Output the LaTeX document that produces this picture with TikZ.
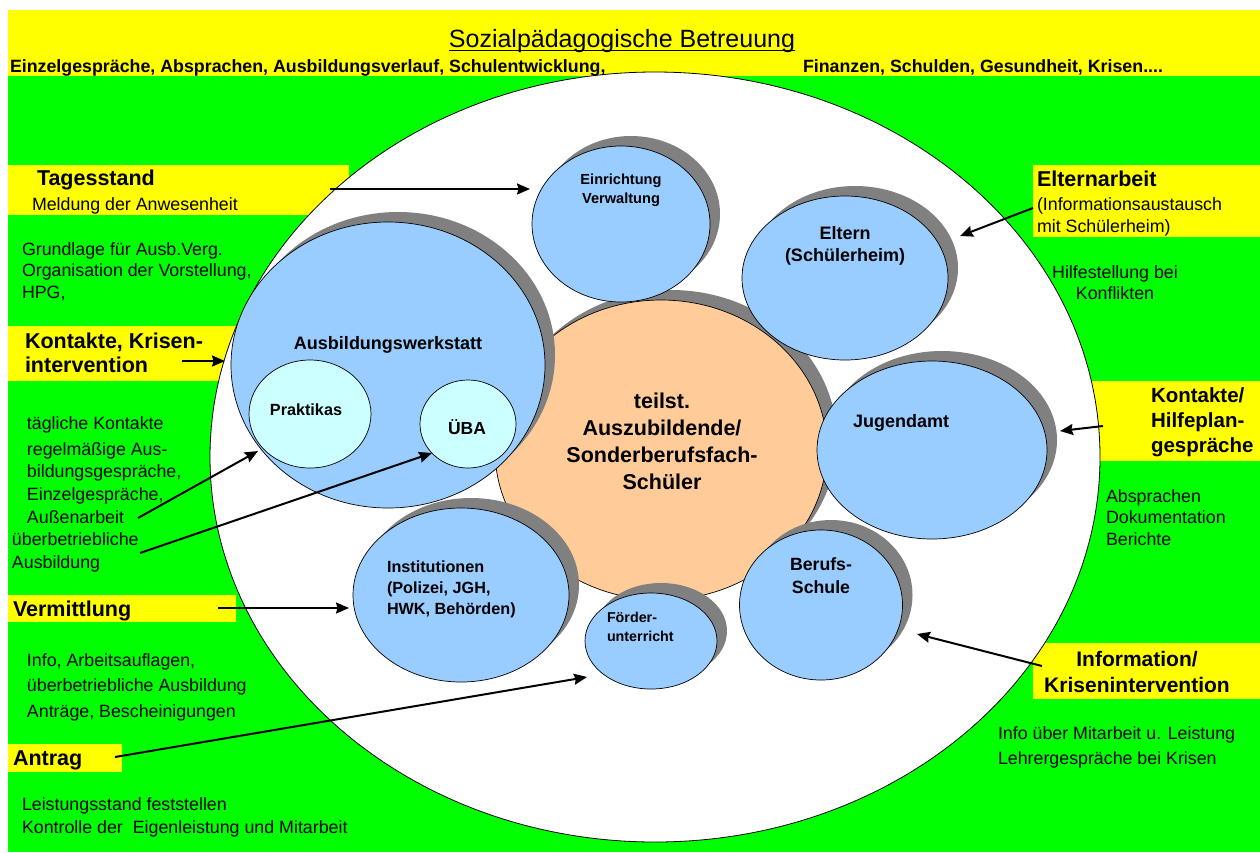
\documentclass[tikz,border=0pt]{standalone}
\usepackage{fontspec}
\setmainfont{Liberation Sans}
\usetikzlibrary{arrows.meta,shapes.geometric,shadows}
\definecolor{bggreen}{RGB}{0,255,0}
\definecolor{hlyellow}{RGB}{255,255,0}
\definecolor{cblue}{RGB}{153,204,255}
\definecolor{ccyan}{RGB}{204,255,255}
\definecolor{cpeach}{RGB}{255,204,153}
\definecolor{cshadow}{RGB}{128,128,128}
\newcommand{\fsz}[2]{\fontsize{#1}{#2}\selectfont}
\newcommand{\cblk}[1]{\vtop{\halign{\hfil##\hfil\cr#1\crcr}}}
\newcommand{\lblk}[1]{\vtop{\halign{##\hfil\cr#1\crcr}}}
\begin{document}
\begin{tikzpicture}[x=1pt,y=-1pt,
  tl/.style={inner sep=0pt,outer sep=0pt,anchor=base west},
  tc/.style={inner sep=0pt,outer sep=0pt,anchor=base},
  body/.style={font=\fsz{17.8}{#1}}, body/.default=22,
  head/.style={font=\bfseries\fsz{21.5}{#1}}, head/.default=25,
  lbl/.style 2 args={font=\bfseries\fsz{#1}{#2}},
  band/.style={fill=hlyellow},
  bubble/.style={ellipse, draw=black, line width=0.7pt, inner sep=0pt, outer sep=0pt, fill=cblue,
     drop shadow={opacity=1,fill=cshadow,shadow xshift=10pt,shadow yshift=10pt}},
  subbubble/.style={ellipse, draw=black, line width=0.7pt, inner sep=0pt, outer sep=0pt, fill=ccyan},
  conn/.style={line width=2pt, -{Stealth[length=13pt,width=11pt,inset=1.5pt]}}
]
\useasboundingbox (0,0) rectangle (1260,852);
\fill[white] (0,0) rectangle (1260,852);
\fill[bggreen] (8,10) rectangle (1260,852);
% yellow bands
\fill[band] (8,10) rectangle (1260,76);
\fill[band] (8,165) rectangle (349,215);
\fill[band] (8,326) rectangle (260,381);
\fill[band] (8,595) rectangle (236,622);
\fill[band] (8,744) rectangle (122,772);
\fill[band] (1033,165) rectangle (1260,237);
\fill[band] (1060,381) rectangle (1260,461);
\fill[band] (1033,643) rectangle (1260,699);

% big white ellipse
\node[ellipse, draw=black, line width=0.8pt, fill=white, inner sep=0pt,
      minimum width=890pt, minimum height=770pt] (outer) at (655,457) {};

% circles
\node[bubble, fill=cpeach, minimum width=332pt, minimum height=300pt] (kern) at (661,450) {};
\node[bubble, minimum width=178pt, minimum height=156pt] (einr) at (621,224) {};
\node[bubble, minimum width=314pt, minimum height=286pt] (werk) at (388,365) {};
\node[subbubble, minimum width=122pt, minimum height=108pt] (prak) at (310,414) {};
\node[subbubble, minimum width=96pt, minimum height=88pt] (uba) at (468,424) {};
\node[bubble, minimum width=206pt, minimum height=164pt] (eltern) at (845,278) {};
\node[bubble, minimum width=230pt, minimum height=178pt] (jugend) at (932,450) {};
\node[bubble, minimum width=216pt, minimum height=174pt] (inst) at (461,595) {};
\node[bubble, minimum width=132pt, minimum height=96pt] (foerd) at (651,641) {};
\node[bubble, minimum width=163pt, minimum height=150pt] (beruf) at (821,605) {};

% circle labels
\node[tc, lbl={14.6}{19}] (einrT) at (621,184) {\cblk{Einrichtung\cr Verwaltung}};
\node[tc, lbl={18}{22}] (werkT) at (388,349) {Ausbildungswerkstatt};
\node[tc, lbl={16.2}{20}] (prakT) at (306,415) {Praktikas};
\node[tc, lbl={17.5}{20}] (ubaT) at (467,434) {ÜBA};
\node[tc, lbl={21.5}{27}] (kernT) at (662,408) {\cblk{teilst.\cr Auszubildende/\cr Sonderberufsfach-\cr Schüler}};
\node[tc, lbl={18}{22}] (elternT) at (845,239) {\cblk{Eltern\cr (Schülerheim)}};
\node[tc, lbl={18}{22}] (jugendT) at (901,427) {Jugendamt};
\node[tl, lbl={16.2}{21}] (instT) at (387,572) {\lblk{Institutionen\cr (Polizei, JGH,\cr HWK, Behörden)}};
\node[tl, lbl={14.3}{19}] (foerdT) at (607,622) {\lblk{Förder-\cr unterricht}};
\node[tc, lbl={17.7}{23}] (berufT) at (821,570) {\cblk{Berufs-\cr Schule}};

% header
\node[tc, font=\fsz{25}{30}] (title) at (622,47) {Sozialpädagogische Betreuung};
\draw[line width=1.6pt] ([yshift=-3.5pt]title.base west) -- ([yshift=-3.5pt]title.base east);
\node[tl, font=\bfseries\fsz{17.8}{22}] (subL) at (10,72) {Einzelgespräche, Absprachen, Ausbildungsverlauf, Schulentwicklung,};
\node[tl, font=\bfseries\fsz{17.8}{22}] (subR) at (803,72) {Finanzen, Schulden, Gesundheit, Krisen....};

% left side texts
\node[tl, head] (tages) at (37,185) {Tagesstand};
\node[tl, body] (meld) at (32,210) {Meldung der Anwesenheit};
\node[tl, body=21.5] (grund) at (22,255) {\lblk{Grundlage für Ausb.Verg.\cr Organisation der Vorstellung,\cr HPG,}};
\node[tl, head=24] (kontakt) at (25,348) {\lblk{Kontakte, Krisen-\cr intervention}};
\node[tl, body] (taegl) at (27,429) {tägliche Kontakte};
\node[tl, body=22.7] (regel) at (27,455) {\lblk{regelmäßige Aus-\cr bildungsgespräche,\cr Einzelgespräche,\cr Außenarbeit}};
\node[tl, body=23] (ueber) at (12,545) {\lblk{überbetriebliche\cr Ausbildung}};
\node[tl, head] (verm) at (13,616) {Vermittlung};
\node[tl, body=25.5] (info) at (27,666) {\lblk{Info, Arbeitsauflagen,\cr überbetriebliche Ausbildung\cr Anträge, Bescheinigungen}};
\node[tl, head] (antrag) at (13,765) {Antrag};
\node[tl, body=23] (leist) at (22,810) {\lblk{Leistungsstand feststellen\cr Kontrolle der~ Eigenleistung und Mitarbeit}};

% right side texts
\node[tl, head] (eltarb) at (1037,186) {Elternarbeit};
\node[tl, body=22] (elttxt) at (1037,210) {\lblk{(Informationsaustausch\cr mit Schülerheim)}};
\node[tc, body=21.5] (hilfe) at (1115,278) {\cblk{Hilfestellung bei\cr Konflikten}};
\node[tl, font=\bfseries\fsz{20.5}{25}] (kontakt2) at (1151,402) {\lblk{Kontakte/\cr Hilfeplan-\cr gespräche}};
\node[tl, body=21.5] (absp) at (1106,502) {\lblk{Absprachen\cr Dokumentation\cr Berichte}};
\node[tc, font=\bfseries\fsz{21}{26}] (infokr) at (1137,666) {\cblk{Information/\cr Krisenintervention}};
\node[tl, body=25] (infoueb) at (998,739) {\lblk{Info über Mitarbeit u. Leistung\cr Lehrergespräche bei Krisen}};

% arrow end points
\coordinate (a1s) at (330,189);  \coordinate (a1e) at (530,189);
\coordinate (a2s) at (1033,208); \coordinate (a2e) at (960,236);
\coordinate (a3s) at (182,361);  \coordinate (a3e) at (225,361);
\coordinate (a4s) at (1103,426); \coordinate (a4e) at (1060,431);
\coordinate (a5s) at (138,518);  \coordinate (a5e) at (258,451);
\coordinate (a6s) at (140,553);  \coordinate (a6e) at (432,453);
\coordinate (a7s) at (218,608);  \coordinate (a7e) at (349,608);
\coordinate (a8s) at (115,757);  \coordinate (a8e) at (587,677);
\coordinate (a9s) at (1042,666); \coordinate (a9e) at (917,634);

\draw[conn] (a1s) -- (a1e);
\draw[conn] (a2s) -- (a2e);
\draw[conn] (a3s) -- (a3e);
\draw[conn] (a4s) -- (a4e);
\draw[conn] (a5s) -- (a5e);
\draw[conn] (a6s) -- (a6e);
\draw[conn] (a7s) -- (a7e);
\draw[conn] (a8s) -- (a8e);
\draw[conn] (a9s) -- (a9e);
\end{tikzpicture}
\end{document}
